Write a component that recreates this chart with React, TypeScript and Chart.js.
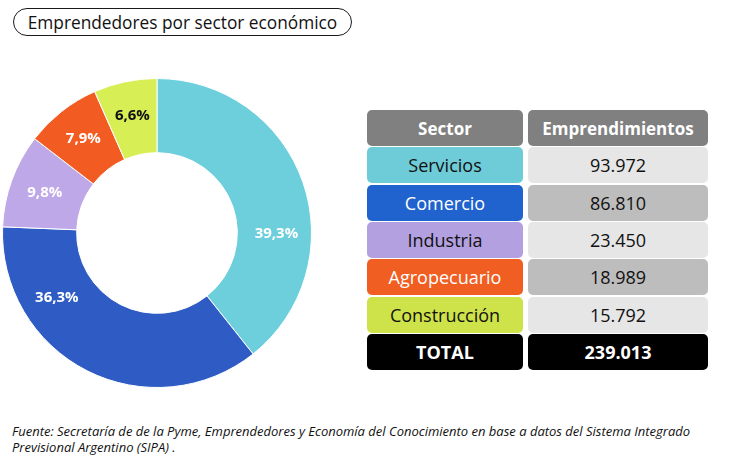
import React, { useEffect, useRef } from "react";
import { Chart, registerables } from "chart.js";

Chart.register(...registerables);

const TITLE = "Emprendedores por sector económico";
const SECTORS = ["Servicios", "Comercio", "Industria", "Agropecuario", "Construcción"];
const VALUES = [93972, 86810, 23450, 18989, 15792];
const TOTAL_LABEL = "239.013";
const CHART_COLORS = ["#6ECFDC", "#2F5CC4", "#BFA8E8", "#F25C22", "#D8EE55"];
const TABLE_COLORS = ["#6ECCD8", "#2062CE", "#B3A0E0", "#F05E22", "#CEE24A"];
const TABLE_TEXT = ["#111", "#fff", "#111", "#fff", "#111"];
const LABEL_COLORS = ["#fff", "#fff", "#fff", "#fff", "#111"];
const SOURCE =
  "Fuente: Secretaría de de la Pyme, Emprendedores y Economía del Conocimiento en base a datos del Sistema Integrado Previsional Argentino (SIPA) .";

const fmt = (n: number) => n.toLocaleString("de-DE");

// fraction along each arc where its label sits
const LABEL_FRAC = [0.64, 0.73, 0.5, 0.5, 0.5];

const labelPlugin = {
  id: "sliceLabels",
  afterDatasetsDraw(chart: any) {
    const ctx = chart.ctx;
    const meta = chart.getDatasetMeta(0);
    const data = chart.data.datasets[0].data as number[];
    const total = data.reduce((a, b) => a + b, 0);
    ctx.save();
    ctx.font = "bold 15px 'Open Sans', Lato, sans-serif";
    ctx.textAlign = "center";
    ctx.textBaseline = "middle";
    meta.data.forEach((arc: any, i: number) => {
      const p = arc.getProps(["x", "y", "startAngle", "endAngle", "innerRadius", "outerRadius"], true);
      const a = p.startAngle + LABEL_FRAC[i] * (p.endAngle - p.startAngle);
      const r = (p.innerRadius + p.outerRadius) / 2 + 2;
      const x = p.x + r * Math.cos(a);
      const y = p.y + r * Math.sin(a);
      const txt = ((data[i] / total) * 100).toFixed(1).replace(".", ",") + "%";
      ctx.fillStyle = LABEL_COLORS[i];
      ctx.fillText(txt, x, y);
    });
    ctx.restore();
  },
};

export default function App() {
  const ref = useRef<HTMLCanvasElement | null>(null);
  useEffect(() => {
    if (!ref.current) return;
    const chart = new Chart(ref.current, {
      type: "doughnut",
      data: {
        labels: SECTORS,
        datasets: [
          {
            data: VALUES,
            backgroundColor: CHART_COLORS,
            borderColor: "#ffffff",
            borderWidth: 1,
          },
        ],
      },
      options: {
        responsive: false,
        animation: false,
        cutout: "52%",
        layout: { padding: 0 },
        plugins: { legend: { display: false }, tooltip: { enabled: false } },
      },
      plugins: [labelPlugin],
    });
    return () => chart.destroy();
  }, []);

  const font = "'Open Sans', Lato, sans-serif";
  const cellBase: React.CSSProperties = {
    position: "absolute",
    height: 36,
    borderRadius: 5,
    display: "flex",
    alignItems: "center",
    justifyContent: "center",
    fontSize: 18,
    fontFamily: font,
  };
  const rowTop = (i: number) => 110 + i * 37.3;
  const c1 = { left: 367, width: 156 };
  const c2 = { left: 528, width: 180 };

  return (
    <div
      style={{
        position: "absolute",
        left: 0,
        top: 0,
        width: 730,
        height: 472,
        background: "#fff",
        overflow: "hidden",
        fontFamily: font,
      }}
    >
      <div
        style={{
          position: "absolute",
          left: 13,
          top: 8,
          width: 337,
          height: 26,
          border: "1.5px solid #1a1a1a",
          borderRadius: 15,
          display: "flex",
          alignItems: "center",
          justifyContent: "center",
          fontSize: 17.3,
          color: "#111",
        }}
      >
        {TITLE}
      </div>

      <canvas
        ref={ref}
        width={310}
        height={310}
        style={{ position: "absolute", left: 2, top: 78, width: 310, height: 310 }}
      />

      <div style={{ ...cellBase, ...c1, top: rowTop(0), background: "#808080", color: "#fff", fontWeight: 700, fontSize: 17 }}>
        Sector
      </div>
      <div style={{ ...cellBase, ...c2, top: rowTop(0), background: "#808080", color: "#fff", fontWeight: 700, fontSize: 17 }}>
        Emprendimientos
      </div>
      {SECTORS.map((s, i) => (
        <React.Fragment key={s}>
          <div style={{ ...cellBase, ...c1, top: rowTop(i + 1), background: TABLE_COLORS[i], color: TABLE_TEXT[i] }}>
            {s}
          </div>
          <div
            style={{
              ...cellBase,
              ...c2,
              top: rowTop(i + 1),
              background: i % 2 === 0 ? "#E6E6E6" : "#BDBDBD",
              color: "#111",
            }}
          >
            {fmt(VALUES[i])}
          </div>
        </React.Fragment>
      ))}
      <div style={{ ...cellBase, ...c1, top: rowTop(6), background: "#000", color: "#fff", fontWeight: 700 }}>
        TOTAL
      </div>
      <div style={{ ...cellBase, ...c2, top: rowTop(6), background: "#000", color: "#fff", fontWeight: 700 }}>
        {TOTAL_LABEL}
      </div>

      <div
        style={{
          position: "absolute",
          left: 12,
          top: 423,
          width: 692,
          fontSize: 13,
          lineHeight: "16px",
          fontStyle: "italic",
          color: "#111",
        }}
      >
        {SOURCE}
      </div>
    </div>
  );
}
